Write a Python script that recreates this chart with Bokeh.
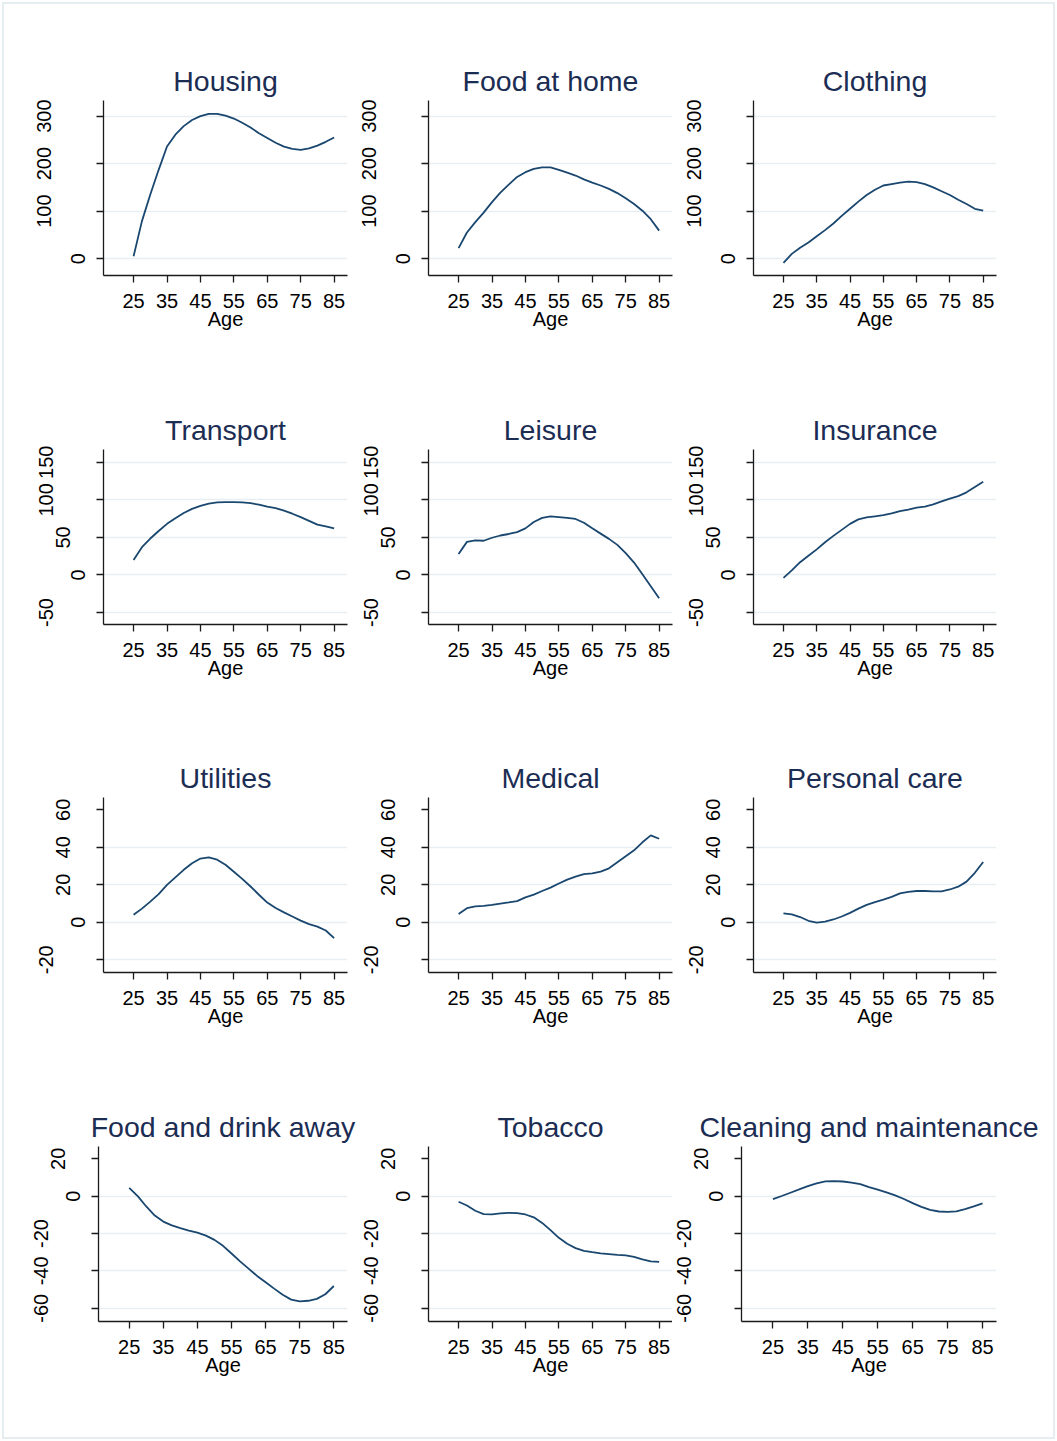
from bokeh.embed import file_html
from bokeh.layouts import column, row
from bokeh.models import FixedTicker, LinearAxis, Range1d
from bokeh.plotting import figure
from bokeh.resources import INLINE

# Age grid shared by every profile
ages = [25, 27.5, 30, 32.5, 35, 37.5, 40, 42.5, 45, 47.5, 50, 52.5, 55,
        57.5, 60, 62.5, 65, 67.5, 70, 72.5, 75, 77.5, 80, 82.5, 85]

# Spending profiles by age, one list per category
housing = [5, 79, 135, 187, 236, 261, 279, 292, 300, 305, 305, 301, 295,
           286, 276, 264, 254, 244, 236, 231, 229, 232, 238, 246, 255]
food_home = [22, 55, 77, 97, 119, 139, 156, 172, 182, 189, 192, 192, 187,
             181, 175, 167, 160, 154, 147, 138, 127, 115, 101, 83, 59]
clothing = [-9, 10, 23, 34, 47, 60, 74, 90, 105, 120, 134, 145, 154,
            157, 160, 162, 161, 157, 150, 142, 134, 124, 115, 105, 101]
transport = [20, 37, 48.5, 58.5, 68, 75.5, 82.5, 88, 92, 95, 96.5, 97, 97,
             96.5, 95.5, 93.5, 91, 89, 85.5, 81.5, 77, 72, 67, 64.5, 62]
leisure = [28, 44, 46, 45.5, 49.5, 52.5, 54.5, 57, 62, 70.5, 76, 78, 77,
           76, 74.5, 69.5, 62, 55, 48, 40, 29, 16.5, 1, -15, -31]
insurance = [-4, 6, 17, 25.5, 34, 43.5, 52, 60, 68, 74, 76.5, 78, 79.5,
             82, 85, 87, 89.5, 91, 94, 98, 101.5, 105, 110, 117, 124]
utilities = [4, 7.3, 11, 15, 20, 24, 28, 31.5, 34, 34.7, 33.4, 30.7, 27,
             23.2, 19.1, 14.7, 10.5, 7.6, 5.3, 3.1, 0.9, -1, -2.3, -4.4, -8.5]
medical = [4.4, 7.5, 8.5, 8.8, 9.3, 10, 10.6, 11.3, 13.3, 14.8, 16.7, 18.5, 20.7,
           22.8, 24.4, 25.7, 26.1, 27, 28.8, 32, 35.2, 38.4, 42.7, 46.4, 44.6]
personal_care = [4.8, 4.2, 2.8, 0.8, -0.2, 0.3, 1.5, 3.1, 5, 7.3, 9.3, 10.8, 12.1,
                 13.6, 15.4, 16.2, 16.7, 16.7, 16.5, 16.5, 17.5, 19, 21.7, 26.4, 32.2]
food_away = [4.5, 0, -5.5, -10.4, -13.6, -15.6, -17.1, -18.4, -19.5, -21.1, -23.4, -26.6, -30.7,
             -34.9, -38.8, -42.7, -46.1, -49.5, -52.8, -55.4, -56.3, -56, -55, -52.5, -48.1]
tobacco = [-3, -5, -7.8, -9.6, -9.7, -9.2, -8.9, -9.1, -9.8, -11.3, -14.3, -18.2, -22.3,
           -25.5, -27.8, -29.3, -30, -30.6, -31, -31.4, -31.7, -32.5, -33.8, -34.9, -35.2]
cleaning = [-1.6, 0.1, 1.85, 3.6, 5.4, 6.9, 7.9, 8.1, 7.85, 7.3, 6.4, 4.9, 3.5,
            2, 0.4, -1.5, -3.75, -5.7, -7.3, -8.2, -8.4, -8.1, -6.9, -5.5, -3.9]

age_ticks = [25, 35, 45, 55, 65, 75, 85]

grid_rows = [
    [("Housing", housing), ("Food at home", food_home), ("Clothing", clothing)],
    [("Transport", transport), ("Leisure", leisure), ("Insurance", insurance)],
    [("Utilities", utilities), ("Medical", medical), ("Personal care", personal_care)],
    [("Food and drink away", food_away), ("Tobacco", tobacco),
     ("Cleaning and maintenance", cleaning)],
]
row_y_ranges = [(-35.5, 333), (-66, 167), (-26.8, 66.6), (-67.1, 26.6)]
row_y_ticks = [[0, 100, 200, 300], [-50, 0, 50, 100, 150],
               [-20, 0, 20, 40, 60], [-60, -40, -20, 0, 20]]
row_y_grid = [[0, 100, 200, 300], [-50, 0, 50, 100, 150],
              [-20, 0, 20, 40], [-60, -40, -20, 0]]

FONT = "Liberation Sans"
LINE_COLOR = "#1A476F"
TITLE_COLOR = "#1C2D54"
GRID_COLOR = "#E8EFF2"
AXIS_COLOR = "#1A1A1A"
X_START, X_END = 16, 89

# layout of the cells: widths, left/right borders per row
row_heights = [349, 348, 349, 395]
col_widths = [[357, 317, 383]] * 3 + [[357, 315, 385]]
left_borders = [[103, 71, 79]] * 3 + [[98, 71, 69]]
right_borders = [[10, 2, 61]] * 3 + [[10, 0, 61]]
TOP = 100
FRAME_H = 175

# standoffs of the stacked label axes (1-, 2- and 3-character labels)
STANDOFF_1 = 11
STANDOFF_2 = -2
STANDOFF_3_AFTER_2 = 0
STANDOFF_3_AFTER_1 = 17


def style_axis(ax):
    ax.axis_line_color = AXIS_COLOR
    ax.axis_line_width = 1.3
    ax.major_tick_line_color = AXIS_COLOR
    ax.major_tick_line_width = 1.3
    ax.major_tick_out = 7
    ax.major_tick_in = 0
    ax.minor_tick_line_color = None


def style_labels(ax, standoff, shown):
    ax.major_label_standoff = standoff
    ax.major_label_orientation = "vertical"
    ax.major_label_text_font = FONT
    ax.major_label_text_font_size = "20px"
    ax.major_label_text_color = "#000000"
    ax.major_label_overrides = {t: (str(t) if t in shown else "")
                                for t in ax.ticker.ticks}


def label_band(ticks, standoff):
    ax = LinearAxis(ticker=FixedTicker(ticks=ticks))
    ax.axis_line_color = None
    ax.major_tick_line_color = None
    ax.minor_tick_line_color = None
    ax.major_tick_out = 0
    ax.major_tick_in = 0
    style_labels(ax, standoff, ticks)
    return ax


def make_panel(title, vals, yr, yticks, ygrid, w, h, left, right):
    p = figure(width=w, height=h,
               x_range=Range1d(X_START, X_END), y_range=Range1d(*yr),
               output_backend="svg", toolbar_location=None,
               min_border_left=left, min_border_right=right,
               min_border_top=TOP, min_border_bottom=h - TOP - FRAME_H,
               title=title)
    p.border_fill_color = None
    p.background_fill_color = None
    p.outline_line_color = None

    p.title.text_font = FONT
    p.title.text_font_size = "28.5px"
    p.title.text_font_style = "normal"
    p.title.text_color = TITLE_COLOR
    p.title.align = "center"
    p.title.standoff = 8

    p.xgrid.visible = False
    p.ygrid.ticker = FixedTicker(ticks=ygrid)
    p.ygrid.grid_line_color = GRID_COLOR
    p.ygrid.grid_line_width = 1.3

    xa = p.xaxis[0]
    xa.ticker = FixedTicker(ticks=age_ticks)
    xa.axis_label = "Age"
    xa.axis_label_text_font = FONT
    xa.axis_label_text_font_size = "20px"
    xa.axis_label_text_font_style = "normal"
    xa.axis_label_text_color = "#000000"
    xa.axis_label_standoff = -3
    xa.major_label_text_font = FONT
    xa.major_label_text_font_size = "20px"
    xa.major_label_text_color = "#000000"
    xa.major_label_standoff = 11
    style_axis(xa)

    # y tick labels grouped by length; each group sits in its own axis band
    one = [t for t in yticks if len(str(t)) == 1]
    two = [t for t in yticks if len(str(t)) == 2]
    three = [t for t in yticks if len(str(t)) == 3]

    ya = p.yaxis[0]
    ya.ticker = FixedTicker(ticks=yticks)
    style_axis(ya)
    style_labels(ya, STANDOFF_1, one)

    if two:
        p.add_layout(label_band(two, STANDOFF_2), "left")
    if three:
        p.add_layout(label_band(three, STANDOFF_3_AFTER_2 if two else STANDOFF_3_AFTER_1),
                     "left")

    p.line(ages, vals, line_color=LINE_COLOR, line_width=1.8)
    return p


rows = []
for r, cells in enumerate(grid_rows):
    figs = []
    for c, (title, vals) in enumerate(cells):
        figs.append(make_panel(title, vals, row_y_ranges[r], row_y_ticks[r],
                               row_y_grid[r], col_widths[r][c], row_heights[r],
                               left_borders[r][c], right_borders[r][c]))
    rows.append(row(*figs, spacing=0))

page = column(*rows, spacing=0,
              styles={"background-color": "#ffffff",
                      "box-shadow": "inset 0 0 0 2px #ffffff, inset 0 0 0 4px #E6EDF0"})

open("out.html", "w").write(file_html(page, INLINE))
